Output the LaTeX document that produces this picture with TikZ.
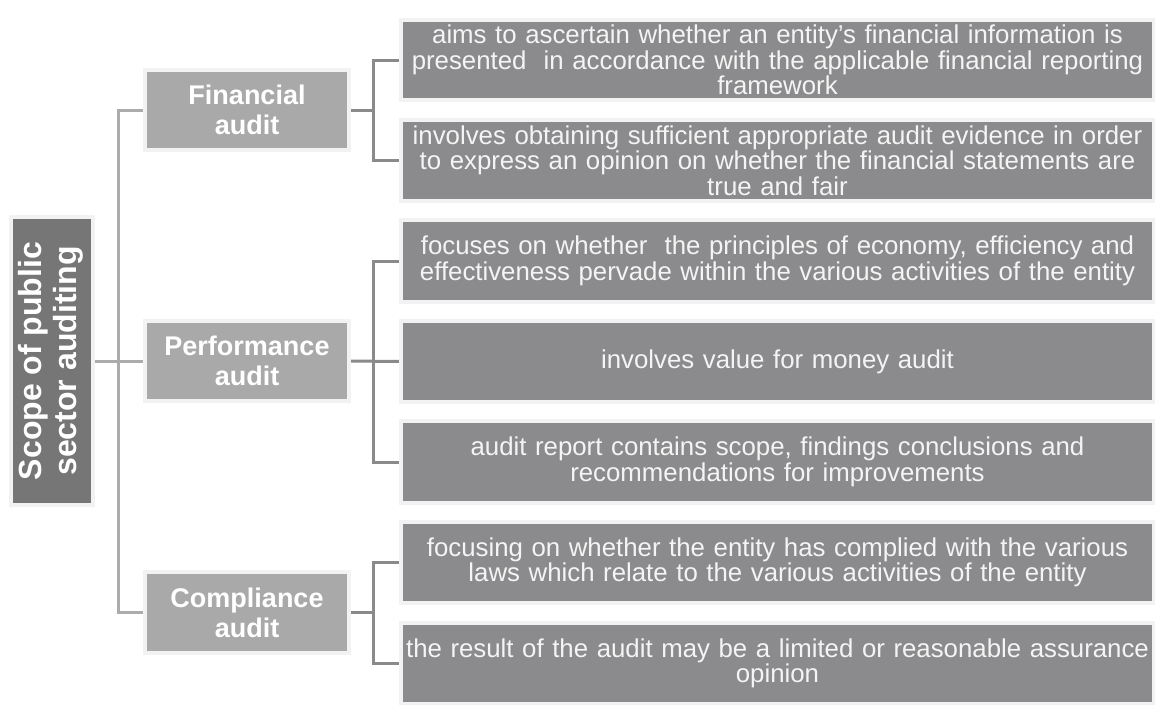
\documentclass[tikz,border=0pt]{standalone}
\usepackage{fontspec}
\setmainfont{Liberation Sans}
\usepackage{graphicx}
\usetikzlibrary{backgrounds}
\definecolor{rootgray}{HTML}{767676}
\definecolor{midgray}{HTML}{A9A9A9}
\definecolor{leafgray}{HTML}{8B8B8D}
\definecolor{linelight}{HTML}{ACACAC}
\definecolor{linedark}{HTML}{8A8A8A}
\definecolor{halo}{HTML}{F2F2F2}
\definecolor{leaftext}{HTML}{F4F4F4}
\begin{document}
\begin{tikzpicture}[x=1pt,y=-1pt,
  box/.style={anchor=north west, inner sep=0pt, outer sep=0pt, text=white, align=center,
              preaction={draw=halo, line width=8pt}},
  rootbox/.style={box, fill=rootgray, minimum width=78pt, minimum height=284pt,
              font=\bfseries\fontsize{32}{35}\selectfont},
  midbox/.style={box, fill=midgray, minimum width=200pt,
              font=\bfseries\fontsize{27}{30}\selectfont},
  leaf/.style={box, fill=leafgray, text=leaftext, minimum width=749pt, text width=745pt,
              font=\fontsize{25.8}{25.5}\selectfont},
  lineA/.style={draw=linelight, line width=3pt},
  lineB/.style={draw=linedark, line width=3pt}]
\useasboundingbox (0,0) rectangle (1155,704);

% root
\node[rootbox] (root) at (13,219) {\rotatebox{90}{\begin{tabular}{@{}c@{}}Scope of public\\ sector auditing\end{tabular}}};

% level 2
\node[midbox, minimum height=76pt] (fin)  at (147,72)  {Financial\\ audit};
\node[midbox, minimum height=76pt] (perf) at (147,323) {Performance\\ audit};
\node[midbox, minimum height=77pt] (comp) at (147,574) {Compliance\\ audit};

% leaves
\node[leaf, minimum height=76pt] (a1) at (403,22)  {aims to ascertain whether an entity’s financial information is\\ presented \ in accordance with the applicable financial reporting\\ framework};
\node[leaf, minimum height=77pt] (a2) at (403,122) {involves obtaining sufficient appropriate audit evidence in order\\ to express an opinion on whether the financial statements are\\ true and fair};
\node[leaf, minimum height=78pt] (b1) at (403,222) {focuses on whether \ the principles of economy, efficiency and\\ effectiveness pervade within the various activities of the entity};
\node[leaf, minimum height=77pt] (b2) at (403,323) {involves value for money audit};
\node[leaf, minimum height=78pt] (b3) at (403,423) {audit report contains scope, findings conclusions and\\ recommendations for improvements};
\node[leaf, minimum height=77pt] (c1) at (403,524) {focusing on whether the entity has complied with the various\\ laws which relate to the various activities of the entity};
\node[leaf, minimum height=77pt] (c2) at (403,625) {the result of the audit may be a limited or reasonable assurance\\ opinion};

\coordinate (tx) at (118,0);
\coordinate (jx) at (373,0);

\begin{scope}[on background layer]
  \fill[white] (0,0) rectangle (1155,704);
  \draw[lineA] (root.east) -- (perf.west);
  \draw[lineA] (fin.west) -- (fin.west -| tx) -- (comp.west -| tx) -- (comp.west);
  \draw[lineB] (fin.east) -- (fin.east -| jx);
  \draw[lineB] (a1.west) -- (a1.west -| jx) -- (a2.west -| jx) -- (a2.west);
  \draw[lineB] (perf.east) -- (b2.west);
  \draw[lineB] (b1.west) -- (b1.west -| jx) -- (b3.west -| jx) -- (b3.west);
  \draw[lineB] (comp.east) -- (comp.east -| jx);
  \draw[lineB] (c1.west) -- (c1.west -| jx) -- (c2.west -| jx) -- (c2.west);
\end{scope}
\end{tikzpicture}
\end{document}
